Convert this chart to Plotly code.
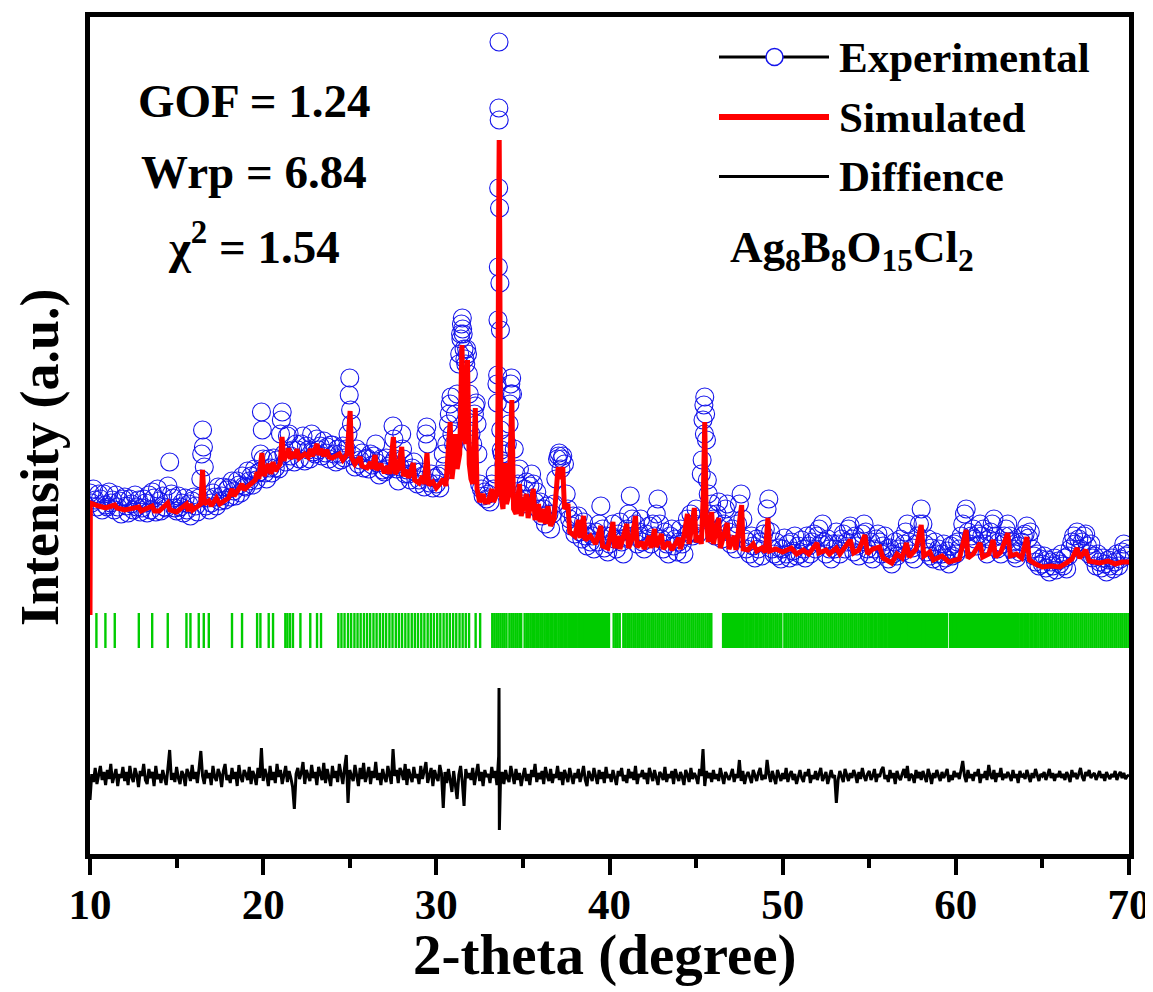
import numpy as np
import plotly.graph_objects as go

# ---------------- data (2-theta in degree, intensity in a.u.) ----------------
TWO_THETA_START = 10.0
TWO_THETA_STEP = 0.1

OBS_10_29 = [
    361, 351, 365, 354, 347, 360, 355, 344, 360, 349,
    347, 362, 351, 354, 344, 359, 347, 353, 340, 355,
    357, 348, 341, 355, 350, 344, 359, 347, 354, 342,
    346, 355, 351, 341, 359, 344, 362, 356, 342, 365,
    353, 343, 358, 347, 346, 368, 392, 360, 356, 346,
    343, 358, 347, 351, 341, 356, 344, 350, 338, 353,
    357, 348, 342, 356, 375, 424, 387, 348, 356, 344,
    351, 361, 357, 348, 367, 353, 358, 367, 354, 364,
    366, 357, 373, 363, 358, 373, 369, 361, 378, 368,
    367, 383, 373, 378, 369, 385, 374, 381, 382, 442,
    395, 381, 375, 395, 386, 381, 396, 386, 394, 385,
    420, 442, 400, 392, 418, 420, 398, 404, 392, 410,
    404, 395, 410, 418, 393, 408, 404, 395, 420, 402,
    400, 415, 404, 408, 398, 413, 401, 407, 395, 409,
    409, 400, 392, 405, 400, 394, 408, 396, 405, 420,
    476, 430, 398, 387, 405, 390, 394, 401, 386, 395,
    396, 385, 400, 389, 398, 410, 391, 379, 395, 384,
    382, 396, 385, 388, 390, 428, 395, 385, 373, 387,
    420, 395, 380, 384, 380, 374, 386, 392, 382, 370,
    374, 382, 378, 367, 420, 410, 371, 380, 366, 376,
]
OBS_30_49 = [
    370, 378, 366, 380, 400, 388, 410, 430, 450, 420,
    410, 440, 460, 490, 520, 536, 505, 490, 500, 460,
    420, 410, 440, 451, 400, 370, 365, 358, 362, 355,
    360, 352, 370, 365, 380, 470, 666, 524, 400, 390,
    400, 410, 430, 470, 460, 405, 380, 370, 385, 360,
    350, 365, 372, 355, 368, 380, 370, 352, 362, 345,
    352, 338, 345, 330, 348, 340, 325, 340, 350, 375,
    395, 401, 385, 398, 390, 360, 345, 335, 328, 338,
    320, 330, 338, 322, 315, 332, 318, 308, 322, 312,
    318, 305, 322, 312, 330, 348, 325, 306, 318, 302,
    310, 318, 330, 315, 305, 320, 332, 312, 300, 316,
    325, 340, 358, 335, 318, 330, 310, 322, 335, 312,
    305, 320, 315, 328, 310, 330, 318, 340, 355, 330,
    315, 305, 322, 310, 300, 318, 325, 308, 315, 302,
    312, 325, 310, 300, 318, 335, 322, 340, 318, 330,
    345, 320, 335, 380, 434, 457, 414, 360, 340, 350,
    335, 318, 340, 352, 325, 315, 330, 345, 350, 322,
    310, 325, 318, 305, 330, 350, 360, 335, 315, 305,
    312, 300, 318, 308, 296, 315, 305, 312, 298, 320,
    325, 345, 355, 322, 305, 300, 312, 298, 306, 295,
]
OBS_50_70 = [
    305, 316, 300, 310, 296, 312, 303, 318, 298, 308,
    300, 314, 305, 296, 318, 308, 300, 312, 320, 305,
    318, 325, 310, 330, 312, 300, 315, 305, 295, 310,
    305, 322, 310, 300, 315, 320, 305, 312, 325, 328,
    315, 302, 318, 308, 298, 312, 320, 330, 322, 305,
    300, 312, 295, 305, 315, 320, 312, 300, 308, 318,
    302, 295, 306, 290, 300, 312, 298, 305, 315, 302,
    310, 322, 330, 312, 300, 306, 295, 310, 318, 330,
    345, 330, 310, 302, 315, 298, 306, 295, 312, 300,
    305, 293, 300, 310, 296, 303, 290, 308, 298, 310,
    300, 312, 305, 318, 330, 340, 345, 322, 310, 318,
    325, 315, 308, 320, 330, 318, 325, 310, 300, 315,
    322, 330, 335, 318, 305, 312, 300, 310, 318, 325,
    330, 318, 305, 312, 300, 296, 308, 302, 312, 318,
    320, 328, 316, 322, 305, 298, 292, 300, 288, 295,
    290, 298, 286, 294, 282, 292, 288, 296, 284, 293,
    290, 300, 288, 296, 285, 298, 305, 312, 318, 310,
    322, 315, 305, 312, 318, 320, 308, 300, 310, 296,
    298, 288, 300, 292, 286, 296, 290, 282, 294, 288,
    296, 285, 292, 300, 288, 295, 302, 310, 298, 305,
    300,
]

# extra observed points read on the strong peaks
OBS_PEAK_X = [16.45, 16.55, 19.85, 19.95, 21.05, 24.97, 25.05, 27.55, 28.05, 29.45,
              30.75, 30.85, 31.35, 31.42, 31.45, 31.52, 31.55, 31.65, 31.75, 31.85,
              32.25, 32.35, 33.52, 33.54, 33.56, 33.58, 33.61, 33.62, 33.63, 33.65,
              33.67, 33.72, 33.75, 34.25, 34.32, 34.35, 37.05, 37.25, 45.35, 45.45,
              45.48, 45.55, 45.65]
OBS_PEAK_Y = [400, 407, 400, 424, 434, 459, 444, 415, 405, 427,
              440, 457, 500, 515, 530, 525, 520, 495, 505, 480,
              448, 430, 451, 479, 534, 587, 746, 812, 734, 646,
              571, 424, 404, 450, 460, 476, 398, 395, 394, 449,
              420, 440, 374]

SIM_X = [10.00, 10.02, 10.5, 10.9, 11.43, 11.55, 12.0, 12.82, 12.95, 13.59, 13.72, 14.0, 14.49, 14.62,
         15.0, 15.57, 15.68, 15.80, 15.92, 16.28, 16.40, 16.50, 16.60, 16.86, 17.0, 17.3, 17.5, 18.0,
         18.20, 18.32, 18.78, 18.90, 19.0, 19.55, 19.65, 19.75, 19.84, 19.93, 20.05, 20.32, 20.45, 20.57,
         20.70, 20.98, 21.09, 21.20, 21.30, 21.40, 21.47, 21.56, 21.72, 21.82, 21.95, 22.08, 22.40, 22.60,
         22.72, 22.85, 23.11, 23.22, 23.34, 23.50, 23.68, 23.80, 24.00, 24.40, 24.60, 24.85, 25.02, 25.12,
         25.30, 25.60, 25.70, 26.00, 26.20, 26.30, 26.46, 26.55, 26.80, 27.00, 27.20, 27.30, 27.52, 27.62,
         27.80, 28.00, 28.10, 28.30, 28.40, 28.67, 28.75, 29.00, 29.20, 29.30, 29.46, 29.56, 29.80, 30.00,
         30.20, 30.40, 30.55, 30.80, 30.90, 31.00, 31.10, 31.20, 31.35, 31.48, 31.58, 31.70, 31.80, 31.90,
         32.00, 32.10, 32.25, 32.35, 32.50, 32.70, 32.80, 33.00, 33.20, 33.30, 33.50, 33.56, 33.60, 33.63,
         33.66, 33.70, 33.76, 33.85, 33.97, 34.05, 34.20, 34.36, 34.46, 34.60, 34.80, 34.90, 35.00, 35.20,
         35.30, 35.50, 35.60, 35.70, 35.90, 36.00, 36.20, 36.30, 36.45, 36.60, 36.80, 37.00, 37.05, 37.15,
         37.30, 37.40, 37.60, 37.70, 38.00, 38.20, 38.30, 38.50, 38.60, 38.90, 39.20, 39.50, 39.60, 39.90,
         40.20, 40.30, 40.50, 40.60, 41.00, 41.10, 41.30, 41.50, 41.60, 41.90, 42.00, 42.30, 42.40, 42.60,
         42.70, 43.00, 43.10, 43.40, 43.60, 44.00, 44.10, 44.30, 44.50, 44.60, 44.90, 45.00, 45.20, 45.30,
         45.42, 45.50, 45.58, 45.70, 45.90, 46.00, 46.30, 46.40, 46.60, 46.80, 46.90, 47.20, 47.30, 47.63,
         47.72, 48.00, 48.30, 48.50, 48.80, 49.00, 49.15, 49.25, 49.60, 50.00, 50.50, 50.80, 51.20, 51.50,
         51.98, 52.10, 52.50, 52.70, 53.10, 53.30, 53.90, 54.10, 54.40, 54.75, 54.90, 55.20, 55.60, 55.80,
         56.30, 56.60, 56.90, 57.15, 57.30, 57.70, 58.00, 58.15, 58.50, 58.70, 59.20, 59.60, 60.20, 60.60,
         60.70, 61.00, 61.40, 61.55, 61.90, 62.15, 62.30, 62.60, 63.00, 63.15, 63.50, 63.80, 64.10, 64.25,
         64.60, 65.00, 65.50, 66.00, 66.30, 66.70, 67.00, 67.15, 67.50, 67.70, 68.00, 68.30, 68.80, 69.20,
         69.60, 70.00]
SIM_Y = [239, 351, 348, 346, 349, 346, 344, 347, 343, 348, 343, 343, 351, 344,
         342, 350, 343, 350, 344, 349, 350, 384, 350, 353, 348, 356, 350, 356,
         365, 358, 370, 364, 366, 374, 382, 375, 385, 401, 378, 390, 380, 392,
         383, 390, 417, 393, 400, 398, 406, 395, 402, 396, 405, 396, 400, 397,
         405, 398, 410, 399, 405, 398, 404, 397, 396, 400, 394, 400, 443, 396,
         390, 397, 388, 386, 392, 385, 399, 384, 390, 381, 388, 380, 417, 380,
         385, 407, 378, 384, 376, 391, 374, 371, 378, 370, 401, 369, 372, 366,
         370, 375, 368, 432, 375, 390, 420, 385, 400, 509, 420, 410, 494, 390,
         375, 370, 446, 365, 352, 360, 352, 352, 365, 352, 360, 450, 640, 714,
         620, 430, 355, 345, 391, 350, 360, 454, 345, 340, 370, 338, 345, 360,
         336, 360, 365, 334, 350, 332, 345, 330, 348, 328, 335, 380, 387, 375,
         387, 345, 350, 322, 318, 334, 316, 338, 314, 318, 310, 328, 308, 306,
         332, 306, 318, 305, 330, 306, 315, 338, 307, 312, 305, 318, 306, 325,
         307, 320, 305, 312, 304, 316, 305, 318, 340, 310, 346, 312, 318, 310,
         360, 432, 340, 312, 342, 310, 336, 306, 320, 331, 305, 318, 304, 349,
         305, 304, 310, 303, 306, 302, 336, 303, 305, 302, 306, 300, 304, 300,
         311, 301, 304, 300, 306, 300, 314, 301, 304, 319, 300, 305, 307, 296,
         291, 300, 296, 311, 297, 305, 329, 298, 302, 294, 298, 292, 295, 324,
         296, 300, 311, 297, 300, 314, 297, 302, 321, 298, 300, 296, 317, 294,
         290, 287, 288, 287, 290, 295, 306, 296, 304, 293, 292, 291, 293, 290,
         292, 292]

DIFF_Y = [
    54, 80, 72, 86, 70, 79, 88, 74, 82, 69,
    84, 75, 90, 71, 78, 85, 68, 80, 76, 87,
    73, 82, 69, 88, 77, 72, 86, 79, 67, 83,
    78, 90, 74, 70, 85, 76, 82, 68, 88, 75,
    80, 71, 84, 77, 69, 86, 104, 74, 81, 72,
    87, 76, 70, 83, 79, 68, 85, 80, 73, 89,
    75, 82, 71, 86, 103, 78, 70, 84, 76, 81,
    69, 88, 77, 73, 85, 80, 67, 83, 90, 74,
    79, 71, 86, 75, 82, 68, 89, 77, 72, 84,
    80, 74, 87, 70, 83, 78, 69, 86, 76, 106,
    73, 85, 79, 68, 88, 74, 82, 71, 90, 77,
    84, 70, 79, 88, 72, 83, 76, 67, 45, 80,
    86, 75, 81, 92, 70, 84, 78, 73, 89, 76,
    82, 69, 87, 79, 74, 91, 71, 85, 77, 68,
    88, 76, 83, 72, 90, 78, 70, 86, 99, 51,
    84, 78, 73, 89, 80, 68, 86, 75, 91, 72,
    79, 87, 70, 83, 76, 92, 74, 81, 69, 85,
    77, 72, 88, 80, 70, 105, 78, 84, 71, 86,
    82, 74, 90, 69, 85, 78, 72, 87, 76, 80,
    70, 88, 75, 83, 92, 71, 79, 86, 68, 84,
    77, 73, 89, 80, 46, 82, 71, 85, 74, 62,
    83, 70, 55, 79, 88, 72, 48, 85, 76, 81,
    74, 86, 69, 80, 90, 73, 82, 68, 84, 77,
    80, 71, 87, 76, 83, 69, 98, 70, 82, 70,
    84, 76, 72, 88, 79, 70, 85, 74, 81, 68,
    78, 86, 73, 80, 69, 84, 77, 90, 72, 81,
    75, 83, 70, 87, 78, 73, 85, 71, 80, 76,
    88, 74, 82, 69, 84, 77, 72, 86, 79, 70,
    81, 76, 85, 72, 79, 88, 74, 68, 83, 77,
    73, 86, 78, 70, 84, 75, 82, 71, 87, 76,
    80, 72, 84, 77, 69, 83, 78, 86, 73, 79,
    71, 85, 76, 82, 74, 88, 70, 80, 77, 84,
    75, 81, 70, 86, 78, 73, 84, 77, 69, 82,
    79, 74, 87, 72, 80, 76, 83, 70, 85, 78,
    73, 82, 77, 69, 84, 79, 72, 86, 75, 81,
    77, 70, 85, 78, 105, 68, 83, 76, 81, 72,
    84, 75, 80, 73, 86, 78, 70, 82, 77, 74,
    79, 85, 72, 80, 76, 94, 73, 83, 70, 78,
    82, 76, 71, 84, 78, 73, 81, 86, 74, 79,
    75, 94, 80, 72, 83, 77, 70, 84, 78, 73,
    81, 75, 86, 72, 79, 83, 74, 80, 70, 78,
    84, 76, 72, 82, 78, 85, 71, 79, 75, 83,
    74, 80, 86, 73, 78, 82, 70, 77, 84, 76,
    79, 51, 74, 83, 77, 72, 85, 78, 73, 81,
    76, 84, 79, 71, 82, 75, 86, 78, 73, 80,
    83, 74, 78, 85, 72, 80, 77, 84, 87, 75,
    79, 72, 84, 76, 81, 70, 83, 77, 74, 80,
    85, 76, 88, 73, 80, 78, 71, 84, 76, 82,
    74, 83, 77, 72, 85, 79, 70, 81, 76, 84,
    78, 73, 82, 76, 80, 85, 72, 79, 74, 83,
    77, 81, 75, 86, 93, 78, 72, 84, 76, 80,
    73, 82, 78, 85, 71, 80, 76, 83, 74, 89,
    79, 75, 84, 72, 81, 77, 86, 74, 80, 76,
    82, 78, 73, 84, 76, 80, 71, 83, 77, 79,
    75, 84, 78, 72, 81, 76, 85, 79, 73, 80,
    78, 82, 74, 79, 85, 76, 81, 73, 80, 77,
    83, 76, 80, 74, 82, 78, 72, 84, 77, 81,
    75, 80, 86, 77, 73, 82, 78, 84, 76, 79,
    81, 74, 79, 83, 76, 80, 73, 82, 78, 75,
    80, 77, 83, 74, 79, 82, 76, 81, 75, 78,
    79,
]
DIFF_PEAK_X = [33.62, 33.64]
DIFF_PEAK_Y = [166, 24]

REFLECTIONS = [
    10.37, 10.89, 11.43, 12.82, 13.59, 14.49, 15.57, 15.80, 16.28, 16.57, 16.86, 18.20, 18.78,
    19.65, 19.84, 20.32, 20.57, 21.28, 21.40, 21.55, 21.72, 22.15, 22.72, 23.11, 23.34,
    24.34, 24.52, 24.70, 24.90, 25.08, 25.27, 25.45, 25.63, 25.82, 26.00, 26.18, 26.37, 26.55,
    26.74, 26.92, 27.10, 27.29, 27.47, 27.66, 27.84, 28.02, 28.21, 28.39, 28.58, 28.76, 28.94,
    29.13, 29.31, 29.50, 29.68, 29.86, 30.05, 30.23, 30.42, 30.60, 30.78, 30.97, 31.15, 31.34,
    31.52, 31.70, 31.89, 32.27, 32.53,
    33.23, 33.35, 33.47, 33.58, 33.70, 33.82, 33.93, 34.05,
    34.22, 34.34, 34.45, 34.57, 34.68, 34.80, 34.90,
    35.10, 35.22, 35.33, 35.45, 35.57, 35.68, 35.80, 35.91, 36.03, 36.14, 36.26, 36.38, 36.49,
    36.61, 36.72, 36.84, 36.95, 37.07, 37.19, 37.30, 37.42, 37.53, 37.65, 37.77, 37.88, 38.00,
    38.11, 38.23, 38.35, 38.46, 38.58, 38.69, 38.81, 38.93, 39.04, 39.16, 39.27, 39.39, 39.51,
    39.62, 39.74, 39.85, 39.97,
    40.24, 40.36, 40.47, 40.59,
    40.80, 40.91, 41.03, 41.14, 41.26, 41.38, 41.49, 41.61, 41.72, 41.84, 41.95, 42.07, 42.19,
    42.30, 42.42, 42.53, 42.65, 42.77, 42.88, 43.00, 43.11, 43.23, 43.35, 43.46, 43.58, 43.69,
    43.81, 43.93, 44.04, 44.16, 44.27, 44.39, 44.51, 44.62, 44.74, 44.85, 44.97, 45.09, 45.20,
    45.32, 45.43, 45.55, 45.67, 45.78, 45.88,
    46.56, 46.68, 46.79, 46.91, 47.02, 47.14, 47.26, 47.37, 47.49, 47.60, 47.72, 47.84, 47.95,
    48.07, 48.18, 48.30, 48.42, 48.53, 48.65, 48.76, 48.88, 49.00, 49.11, 49.23, 49.34, 49.46,
    49.58, 49.69, 49.81, 49.92,
    50.10, 50.21, 50.33, 50.45, 50.56, 50.68, 50.79, 50.91, 51.03, 51.14, 51.26, 51.37, 51.49,
    51.61, 51.72, 51.84, 51.95, 52.07, 52.19, 52.30, 52.42, 52.53, 52.65, 52.77, 52.88, 53.00,
    53.11, 53.23, 53.35, 53.46, 53.58, 53.69, 53.81, 53.93, 54.04, 54.16, 54.27, 54.39, 54.51,
    54.62, 54.74, 54.85, 54.97, 55.09, 55.20, 55.32, 55.43, 55.55, 55.67, 55.78, 55.90, 56.01,
    56.13, 56.25, 56.36, 56.48, 56.59, 56.71, 56.83, 56.94, 57.06, 57.17, 57.29, 57.41, 57.52,
    57.64, 57.75, 57.87, 57.99, 58.10, 58.22, 58.33, 58.45, 58.57, 58.68, 58.80, 58.91, 59.03,
    59.15, 59.26, 59.38, 59.48,
    59.66, 59.77, 59.89, 60.00, 60.12, 60.24, 60.35, 60.47, 60.58, 60.70, 60.82, 60.93, 61.05,
    61.16, 61.28, 61.40, 61.51, 61.63, 61.74, 61.86, 61.98, 62.09, 62.21, 62.32, 62.44, 62.56,
    62.67, 62.79, 62.90, 63.02, 63.14, 63.25, 63.37, 63.48, 63.60, 63.72, 63.83, 63.95, 64.06,
    64.18, 64.30, 64.41, 64.53, 64.64, 64.76, 64.88, 64.99, 65.11, 65.22, 65.34, 65.46, 65.57,
    65.69, 65.80, 65.92, 66.04, 66.15, 66.27, 66.38, 66.50, 66.62, 66.73, 66.85, 66.96, 67.08,
    67.20, 67.31, 67.43, 67.54, 67.66, 67.78, 67.89, 68.01, 68.12, 68.24, 68.36, 68.47, 68.59,
    68.70, 68.82, 68.94, 69.05, 69.17, 69.28, 69.40, 69.52, 69.63, 69.75, 69.86, 69.98,
]
REFLECTION_LEVEL = 223.5

X_TICKS = [10, 20, 30, 40, 50, 60, 70]

# ---------------- assemble series ----------------
obs_grid_y = OBS_10_29 + OBS_30_49 + OBS_50_70
grid_x = np.round(TWO_THETA_START + TWO_THETA_STEP * np.arange(len(obs_grid_y)), 2)

obs_x = np.concatenate([grid_x, OBS_PEAK_X])
obs_y = np.concatenate([obs_grid_y, OBS_PEAK_Y])
order = np.argsort(obs_x, kind="stable")
obs_x, obs_y = obs_x[order], obs_y[order]

diff_x = np.concatenate([grid_x, DIFF_PEAK_X])
diff_y = np.concatenate([DIFF_Y, DIFF_PEAK_Y])
order = np.argsort(diff_x, kind="stable")
diff_x, diff_y = diff_x[order], diff_y[order]

FONT = "Liberation Serif"
BLUE = "rgb(20,20,235)"

fig = go.Figure()
fig.add_trace(go.Scatter(
    x=obs_x, y=obs_y, mode="markers", name="Experimental",
    marker=dict(symbol="circle-open", size=18, color=BLUE, line=dict(width=1.1, color=BLUE)),
    showlegend=False))
fig.add_trace(go.Scatter(
    x=SIM_X, y=SIM_Y, mode="lines", name="Simulated",
    line=dict(color="rgb(255,0,0)", width=5), showlegend=False))
fig.add_trace(go.Scatter(
    x=REFLECTIONS, y=[REFLECTION_LEVEL] * len(REFLECTIONS), mode="markers",
    marker=dict(symbol="line-ns", size=25, line=dict(width=2.4, color="rgb(0,204,0)")),
    showlegend=False))
fig.add_trace(go.Scatter(
    x=diff_x, y=diff_y, mode="lines", name="Diffience",
    line=dict(color="black", width=3), showlegend=False))

# page body has an 8px default margin; figure is sized so the page matches 1153x992
OFF = 8
L, R, T, B = 82, 24, 9, 138
W, H = 1145, 984
pw, ph = W - L - R, H - T - B


def px(xp):
    return (xp - OFF - L) / pw


def py(yp):
    return (OFF + H - B - yp) / ph


ann = []
bold = dict(family=FONT, color="black", weight="bold")
for txt, yy in [("GOF = 1.24", 101), ("Wrp = 6.84", 172), ("\u03c7<sup>2</sup> = 1.54", 243)]:
    ann.append(dict(text=txt, x=px(254), y=py(yy), xref="paper", yref="paper",
                    xanchor="center", yanchor="middle", showarrow=False,
                    font=dict(size=47, **bold)))
for txt, yy in [("Experimental", 58), ("Simulated", 117), ("Diffience", 176)]:
    ann.append(dict(text=txt, x=px(837), y=py(yy), xref="paper", yref="paper",
                    xanchor="left", yanchor="middle", showarrow=False,
                    font=dict(size=43, **bold)))
ann.append(dict(text="Ag<sub>8</sub>B<sub>8</sub>O<sub>15</sub>Cl<sub>2</sub>",
                x=px(728), y=py(250), xref="paper", yref="paper",
                xanchor="left", yanchor="middle", showarrow=False,
                font=dict(size=45, **bold)))
ann.append(dict(text="2-theta (degree)", x=px(605), y=py(955), xref="paper", yref="paper",
                xanchor="center", yanchor="middle", showarrow=False,
                font=dict(size=57, **bold)))
ann.append(dict(text="Intensity (a.u.)", x=px(40), y=py(457), xref="paper", yref="paper",
                xanchor="center", yanchor="middle", textangle=-90, showarrow=False,
                font=dict(size=54, **bold)))

shapes = [
    dict(type="line", xref="paper", yref="paper", x0=px(719), x1=px(829), y0=py(57), y1=py(57),
         line=dict(color="black", width=3)),
    dict(type="circle", xref="paper", yref="paper", x0=px(766), x1=px(783), y0=py(65.5), y1=py(48.5),
         line=dict(color=BLUE, width=1.5), fillcolor="white"),
    dict(type="line", xref="paper", yref="paper", x0=px(719), x1=px(829), y0=py(117), y1=py(117),
         line=dict(color="rgb(255,0,0)", width=6)),
    dict(type="line", xref="paper", yref="paper", x0=px(719), x1=px(829), y0=py(176.5), y1=py(176.5),
         line=dict(color="black", width=3)),
]

fig.update_layout(
    width=W, height=H, margin=dict(l=L, r=R, t=T, b=B, autoexpand=False),
    paper_bgcolor="white", plot_bgcolor="white",
    annotations=ann, shapes=shapes,
    xaxis=dict(range=[10, 70], tickvals=X_TICKS, ticks="outside", ticklen=16, tickwidth=4,
               tickcolor="black", showline=True, linewidth=5, linecolor="black", mirror=True,
               showgrid=False, zeroline=False, automargin=False, ticklabelstandoff=-8,
               tickfont=dict(family=FONT, size=43, color="black", weight="bold"),
               minor=dict(dtick=5, ticks="outside", ticklen=9, tickwidth=4, tickcolor="black",
                          showgrid=False)),
    yaxis=dict(range=[0, 837], showticklabels=False, ticks="", showline=True, linewidth=5,
               linecolor="black", mirror=True, showgrid=False, zeroline=False, automargin=False),
)

fig.write_html("out.html")
